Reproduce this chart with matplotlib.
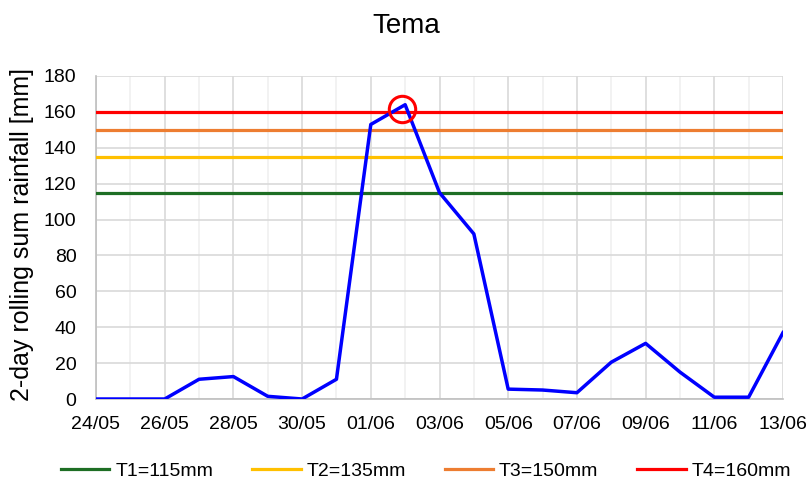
import matplotlib
matplotlib.use("Agg")
import numpy as np
import matplotlib.pyplot as plt

# daily dates, 24/05 to 13/06
dates = ["24/05", "25/05", "26/05", "27/05", "28/05", "29/05", "30/05", "31/05",
         "01/06", "02/06", "03/06", "04/06", "05/06", "06/06", "07/06", "08/06",
         "09/06", "10/06", "11/06", "12/06", "13/06"]
rainfall = [0, 0, 0, 11, 12.5, 1.5, 0, 11,
            153, 164, 115, 92, 5.5, 5, 3.5, 20.5,
            31, 15, 1, 1, 37]

# thresholds
thr_labels = ["T1=115mm", "T2=135mm", "T3=150mm", "T4=160mm"]
thr_values = [115, 135, 150, 160]
thr_colors = ["#1e6e24", "#ffc000", "#ed7d31", "#ff0000"]

# exceedance marker (circle around the peak)
peak_x = 8.9
peak_val = 161.5

plt.rcParams["font.family"] = ["Liberation Sans", "DejaVu Sans"]

fig = plt.figure(figsize=(8.09, 4.86), dpi=100)
ax = fig.add_axes([96 / 809, 1 - 399 / 486, 687 / 809, 323 / 486])

x = np.arange(len(dates))

for lab, val, col in zip(thr_labels, thr_values, thr_colors):
    ax.plot([x[0], x[-1]], [val, val], color=col, lw=2.3, label=lab, zorder=3)

ax.plot(x, rainfall, color="#0000ff", lw=2.5, zorder=4)
ax.plot(peak_x, peak_val, "o", ms=19, mfc="none", mec="#ff0000", mew=2.2, zorder=5)

ax.set_xlim(x[0], x[-1])
ax.set_ylim(0, 180)
ax.set_yticks(np.arange(0, 181, 20))
ax.set_xticks(x[::2])
ax.set_xticklabels(dates[::2])
ax.set_xticks(x[1::2], minor=True)

ax.grid(True, which="major", color="#d9d9d9", lw=1.2)
ax.grid(True, which="minor", axis="x", color="#f0f0f0", lw=1.2)
ax.set_axisbelow(True)

for s in ["top", "right"]:
    ax.spines[s].set_visible(False)
for s in ["left", "bottom"]:
    ax.spines[s].set_color("#bfbfbf")
    ax.spines[s].set_linewidth(1.2)

ax.tick_params(which="both", length=0, labelsize=14)
ax.tick_params(axis="y", pad=14)
ax.tick_params(axis="x", pad=12)
ax.set_ylabel("2-day rolling sum rainfall [mm]", fontsize=18, va="center")
ax.yaxis.set_label_coords(-0.107, 0.508)

fig.text(406 / 809, 1 - 26 / 486, "Tema", fontsize=20, ha="center", va="center")

fig.legend(loc="center", ncol=4, frameon=False, fontsize=14,
           bbox_to_anchor=(426 / 809, 15 / 486), handlelength=2.5,
           handletextpad=0.3, columnspacing=2.0)

fig.savefig("out.png", dpi=100)
